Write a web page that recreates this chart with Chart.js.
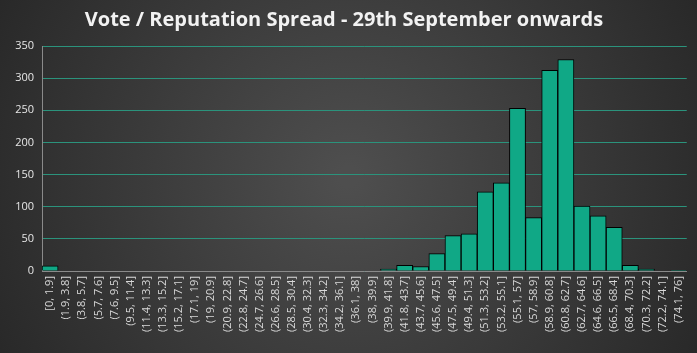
<!DOCTYPE html>
<html>
<head>
<meta charset="utf-8">
<script src="https://cdn.jsdelivr.net/npm/chart.js@4/dist/chart.umd.min.js"></script>
<style>
  html, body { margin: 0; padding: 0; background: #2a2a2a; }
  #wrap { width: 697px; height: 353px; }
</style>
</head>
<body>
<div id="wrap"><canvas id="myChart" width="697" height="353"></canvas></div>
<script>
var bins = ["[0, 1.9]", "(1.9, 3.8]", "(3.8, 5.7]", "(5.7, 7.6]", "(7.6, 9.5]",
  "(9.5, 11.4]", "(11.4, 13.3]", "(13.3, 15.2]", "(15.2, 17.1]", "(17.1, 19]",
  "(19, 20.9]", "(20.9, 22.8]", "(22.8, 24.7]", "(24.7, 26.6]", "(26.6, 28.5]",
  "(28.5, 30.4]", "(30.4, 32.3]", "(32.3, 34.2]", "(34.2, 36.1]", "(36.1, 38]",
  "(38, 39.9]", "(39.9, 41.8]", "(41.8, 43.7]", "(43.7, 45.6]", "(45.6, 47.5]",
  "(47.5, 49.4]", "(49.4, 51.3]", "(51.3, 53.2]", "(53.2, 55.1]", "(55.1, 57]",
  "(57, 58.9]", "(58.9, 60.8]", "(60.8, 62.7]", "(62.7, 64.6]", "(64.6, 66.5]",
  "(66.5, 68.4]", "(68.4, 70.3]", "(70.3, 72.2]", "(72.2, 74.1]", "(74.1, 76]"];

var counts = [8, 0, 0, 0, 0, 0, 0, 0, 0, 0,
  0, 0, 0, 0, 0, 0, 0, 0, 0, 0,
  0, 3, 9, 7, 27, 55, 58, 123, 137, 253,
  83, 312, 329, 101, 86, 68, 9, 3, 0, 1];

var yTicks = [0, 50, 100, 150, 200, 250, 300, 350];

// dark radial backdrop like the spreadsheet chart style
var backdrop = {
  id: 'backdrop',
  beforeDraw: function(chart) {
    var ctx = chart.ctx;
    var w = chart.width, h = chart.height;
    var g = ctx.createRadialGradient(w / 2, h / 2, 10, w / 2, h / 2, w * 0.6);
    g.addColorStop(0, '#4e4e4e');
    g.addColorStop(1, '#262626');
    ctx.save();
    ctx.fillStyle = g;
    ctx.fillRect(0, 0, w, h);
    ctx.restore();
  }
};

var ctx = document.getElementById("myChart").getContext('2d');
var chart = new Chart(ctx, {
  type: 'bar',
  data: {
    labels: bins,
    datasets: [{
      data: counts,
      backgroundColor: '#10a886',
      borderColor: '#000000',
      borderWidth: 1,
      categoryPercentage: 1.0,
      barPercentage: 1.0
    }]
  },
  options: {
    responsive: false,
    animation: false,
    layout: { padding: { left: 0, right: 9, top: 0, bottom: 0 } },
    plugins: {
      legend: { display: false },
      tooltip: { enabled: false },
      title: {
        display: true,
        text: 'Vote / Reputation Spread - 29th September onwards',
        color: '#f2f2f2',
        font: { family: 'Open Sans', size: 20, weight: 'bold' },
        padding: { top: 8, bottom: 14 }
      }
    },
    scales: {
      x: {
        grid: { display: false, drawTicks: false },
        border: { color: '#8a8a8a', width: 1 },
        ticks: {
          color: '#d9d9d9',
          font: { family: 'Open Sans', size: 11 },
          maxRotation: 90,
          minRotation: 90,
          autoSkip: false,
          padding: 5
        },
        afterFit: function(scale) { scale.height = 82; }
      },
      y: {
        min: 0,
        max: 350,
        afterBuildTicks: function(scale) {
          scale.ticks = yTicks.map(function(v) { return { value: v }; });
        },
        grid: { color: '#2b937c', lineWidth: 1, drawTicks: false },
        border: { color: '#8a8a8a', width: 1 },
        ticks: {
          color: '#e6e6e6',
          font: { family: 'Open Sans', size: 11 },
          padding: 8
        },
        afterFit: function(scale) { scale.width = 42; }
      }
    }
  },
  plugins: [backdrop]
});
</script>
</body>
</html>
